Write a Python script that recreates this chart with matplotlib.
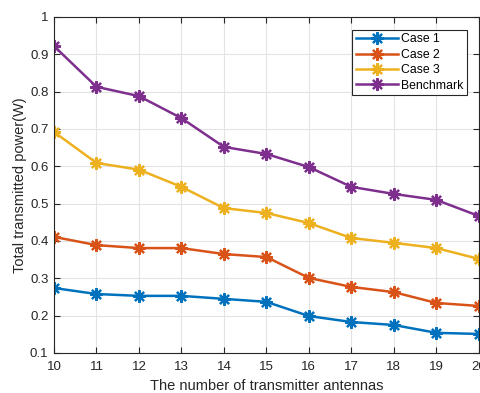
import matplotlib
matplotlib.use("Agg")
import matplotlib.pyplot as plt

antennas = [10, 11, 12, 13, 14, 15, 16, 17, 18, 19, 20]
case1 = [0.274, 0.258, 0.253, 0.253, 0.245, 0.237, 0.199, 0.183, 0.175, 0.154, 0.151]
case2 = [0.411, 0.389, 0.381, 0.381, 0.365, 0.357, 0.301, 0.277, 0.263, 0.234, 0.226]
case3 = [0.692, 0.609, 0.591, 0.545, 0.488, 0.475, 0.448, 0.408, 0.395, 0.381, 0.352]
benchmark = [0.922, 0.813, 0.788, 0.729, 0.652, 0.633, 0.598, 0.545, 0.526, 0.510, 0.467]
labels = ["Case 1", "Case 2", "Case 3", "Benchmark"]
colors = ["#0072BD", "#D95319", "#EDB120", "#7E2F8E"]

plt.rcParams['font.family'] = ['Liberation Sans', 'DejaVu Sans']

fig = plt.figure(figsize=(4.8, 3.93), dpi=100)
ax = fig.add_axes([0.1125, 0.1018, 0.885, 0.855])

# MATLAB style asterisk marker: 8 spokes
for ys, lab, c in zip([case1, case2, case3, benchmark], labels, colors):
    ax.plot(antennas, ys, color=c, lw=1.8, marker=(8, 2, 0), markersize=9,
            markeredgewidth=1.6, label=lab)

ax.set_xlim(10, 20)
ax.set_ylim(0.1, 1.0)
ax.set_xticks(antennas)
ax.set_yticks([0.1, 0.2, 0.3, 0.4, 0.5, 0.6, 0.7, 0.8, 0.9, 1.0])
ax.set_yticklabels(["0.1", "0.2", "0.3", "0.4", "0.5", "0.6", "0.7", "0.8", "0.9", "1"])
ax.grid(True, color='#e3e3e3', lw=0.8)
ax.set_axisbelow(True)
ax.tick_params(direction='in', top=True, right=True, labelsize=9.5, colors='#262626',
               length=4)
ax.tick_params(axis='x', pad=6)
ax.tick_params(axis='y', pad=4)
for s in ax.spines.values():
    s.set_color('#262626')
    s.set_linewidth(0.8)

ax.set_xlabel("The number of transmitter antennas", fontsize=10.5, color='#262626', labelpad=4)
ax.set_ylabel("Total transmitted power(W)", fontsize=10.5, color='#262626', labelpad=2)

leg = ax.legend(loc='upper right', bbox_to_anchor=(0.972, 0.962), fontsize=8.8,
                fancybox=False, framealpha=1, edgecolor='#262626',
                handlelength=3.5, borderpad=0.3, labelspacing=0.28,
                handletextpad=0.2, borderaxespad=0)
leg.get_frame().set_linewidth(0.8)

fig.savefig("out.png", dpi=100)
